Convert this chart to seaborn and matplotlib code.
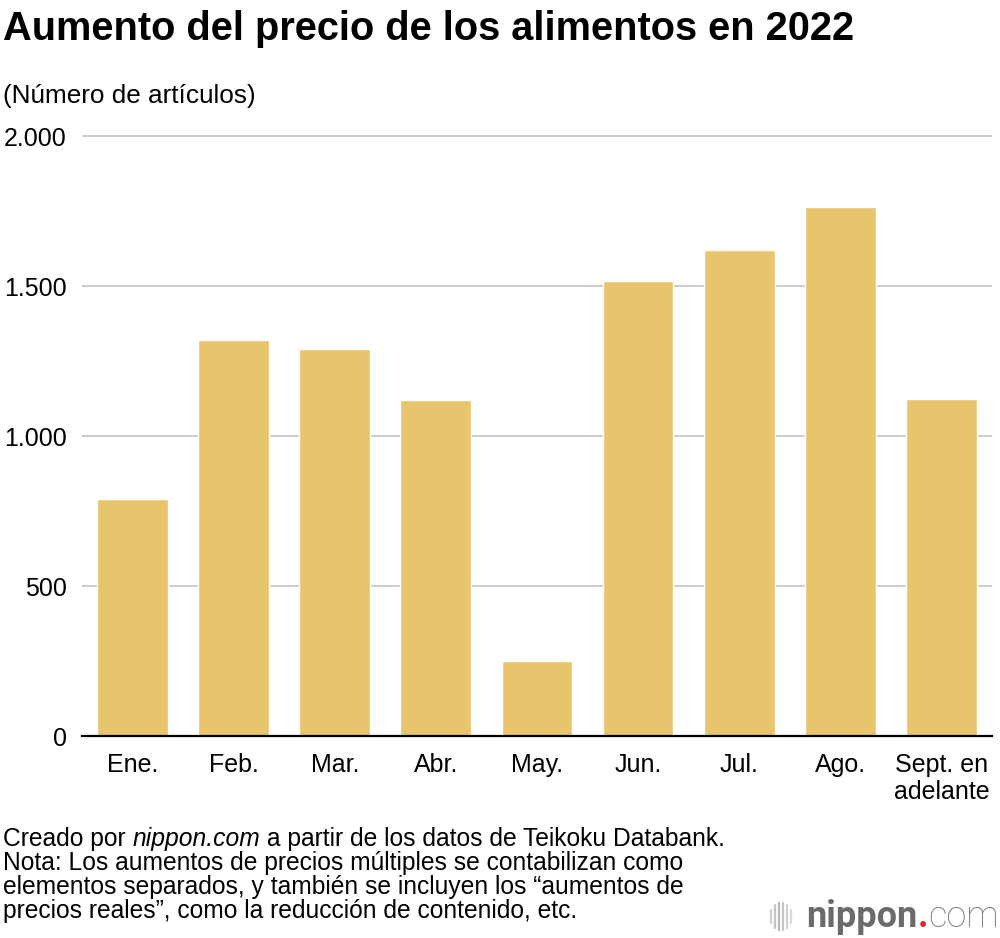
import matplotlib.pyplot as plt
import seaborn as sns
from matplotlib.lines import Line2D

months = ['Ene.', 'Feb.', 'Mar.', 'Abr.', 'May.', 'Jun.', 'Jul.', 'Ago.', 'Sept. en\nadelante']
items = [790, 1320, 1290, 1120, 250, 1515, 1620, 1762, 1123]
y_ticks = [0, 500, 1000, 1500, 2000]
y_tick_labels = ['0', '500', '1.000', '1.500', '2.000']

title = 'Aumento del precio de los alimentos en 2022'
unit_label = '(Número de artículos)'
note_lines = [
    'Nota: Los aumentos de precios múltiples se contabilizan como',
    'elementos separados, y también se incluyen los “aumentos de',
    'precios reales”, como la reducción de contenido, etc.',
]

sns.set_theme(style='white')
plt.rcParams['font.family'] = ['Liberation Sans', 'DejaVu Sans']
plt.rcParams['text.color'] = 'black'
plt.rcParams['xtick.color'] = 'black'
plt.rcParams['ytick.color'] = 'black'

W, H = 1000, 938
fig = plt.figure(figsize=(W / 100, H / 100), dpi=100)
fig.patch.set_facecolor('white')


def fx(px):
    return px / W


def fy(py):
    return 1 - py / H


ax = fig.add_axes([fx(82), fy(736), fx(910), 603 / H])
sns.barplot(x=months, y=items, color='#E8C46C', saturation=1, width=0.7,
            ax=ax, zorder=3)

ax.set_ylim(0, 2010)
ax.set_yticks(y_ticks)
ax.set_yticklabels(y_tick_labels)
ax.yaxis.grid(True, color='#cccccc', lw=1.4)
ax.set_axisbelow(True)
ax.set_xlabel('')
ax.set_ylabel('')
for s in ['top', 'right', 'left']:
    ax.spines[s].set_visible(False)
ax.spines['bottom'].set_color('black')
ax.spines['bottom'].set_linewidth(1.6)
ax.spines['bottom'].set_zorder(5)
ax.tick_params(axis='both', length=0, labelsize=18, colors='black', labelcolor='black')
ax.tick_params(axis='y', pad=11)
ax.tick_params(axis='x', pad=12)

# titles
fig.text(fx(3), fy(39.5), title, fontsize=28.6, fontweight='bold', va='baseline', ha='left')
fig.text(fx(3), fy(103), unit_label, fontsize=18.8, va='baseline', ha='left')

# source line with italic nippon.com
renderer = fig.canvas.get_renderer()
x = fx(3)
for txt, style in [('Creado por ', 'normal'), ('nippon.com', 'italic'),
                   (' a partir de los datos de Teikoku Databank.', 'normal')]:
    t = fig.text(x, fy(845.5), txt, fontsize=17.7, style=style, va='baseline', ha='left')
    bb = t.get_window_extent(renderer)
    x = bb.x1 / W
for i, line in enumerate(note_lines):
    fig.text(fx(3), fy(869.5 + 24 * i), line, fontsize=17.7, va='baseline', ha='left')

# nippon.com logo
x = fx(806)
for txt, col, wt in [('nippon', '#6b6b6b', 'bold'), ('.', '#e8262c', 'bold'),
                     ('com', '#7a7a7a', 'light')]:
    t = fig.text(x, fy(927), txt, fontsize=26, color=col, fontweight=wt,
                 family=['Roboto', 'DejaVu Sans'], va='baseline', ha='left')
    bb = t.get_window_extent(renderer)
    x = bb.x1 / W
bar_x = [771, 775, 779, 783, 787, 791]
bar_h = [[910, 923], [905, 928], [903, 930], [903, 930], [905, 928], [910, 923]]
bar_c = ['#d0d0d0', '#c4c4c4', '#b8b8b8', '#c4c4c4', '#d0d0d0', '#dadada']
for bx, (y0, y1), c in zip(bar_x, bar_h, bar_c):
    fig.add_artist(Line2D([fx(bx), fx(bx)], [fy(y0), fy(y1)], color=c, lw=1.6,
                          transform=fig.transFigure))

fig.savefig('out.png', dpi=100, facecolor='white')
